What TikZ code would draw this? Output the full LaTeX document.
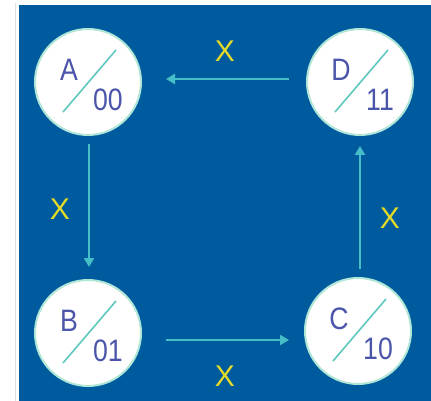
\documentclass[tikz,border=0pt]{standalone}
\usepackage{fontspec}
\setmainfont{Liberation Sans}
\usetikzlibrary{arrows.meta}
\definecolor{bgblue}{RGB}{0,90,158}
\definecolor{arrowteal}{RGB}{70,190,200}
\definecolor{slashteal}{RGB}{95,200,190}
\definecolor{letterblue}{RGB}{75,85,170}
\definecolor{xyellow}{RGB}{228,218,40}
\definecolor{rimteal}{RGB}{175,230,215}
\tikzset{
  state/.style={circle,fill=white,draw=rimteal,line width=2pt,minimum size=106pt,inner sep=0pt},
  trans/.style={draw=arrowteal,line width=2pt,-{Triangle[width=10pt,length=9pt]}},
  xlabel/.style={text=xyellow,font=\fontsize{30}{30}\selectfont}
}
\newcommand{\statetext}[3]{%
  \draw[slashteal,line width=1.6pt] ([shift={(-25pt,-30pt)}]#1.center) -- ([shift={(28pt,32pt)}]#1.center);
  \node[text=letterblue,font=\fontsize{31}{31}\selectfont,xscale=0.86] at ([shift={(-19pt,12pt)}]#1.center) {#2};
  \node[text=letterblue,font=\fontsize{31}{31}\selectfont,xscale=0.86] at ([shift={(20pt,-18pt)}]#1.center) {#3};
}
\begin{document}
\begin{tikzpicture}[x=1pt,y=-1pt]
\useasboundingbox (0,0) rectangle (431,401);
\fill[bgblue] (19,5) rectangle (431,401);
\draw[gray!25,line width=0.6pt] (15,3) -- (15,401);
\node[state] (a) at (88,82) {};
\node[state] (d) at (360,82) {};
\node[state] (b) at (88,333) {};
\node[state] (c) at (358,331) {};
\statetext{a}{A}{00}
\statetext{d}{D}{11}
\statetext{b}{B}{01}
\statetext{c}{C}{10}
\draw[trans,shorten <=17pt,shorten >=24pt] ([yshift=3pt]d.west) -- ([yshift=3pt]a.east);
\draw[trans,shorten <=8pt,shorten >=12pt] ([xshift=1pt]a.south) -- ([xshift=1pt]b.north);
\draw[trans,shorten <=24pt,shorten >=15pt] ([yshift=-7pt]b.east) -- ([yshift=-9pt]c.west);
\draw[trans,shorten <=8pt,shorten >=10pt] ([xshift=2pt]c.north) -- (d.south);
\node[xlabel] (xad) at (225,51) {X};
\node[xlabel] (xab) at (60,209) {X};
\node[xlabel] (xbc) at (225,376) {X};
\node[xlabel] (xcd) at (390,218) {X};
\end{tikzpicture}
\end{document}
